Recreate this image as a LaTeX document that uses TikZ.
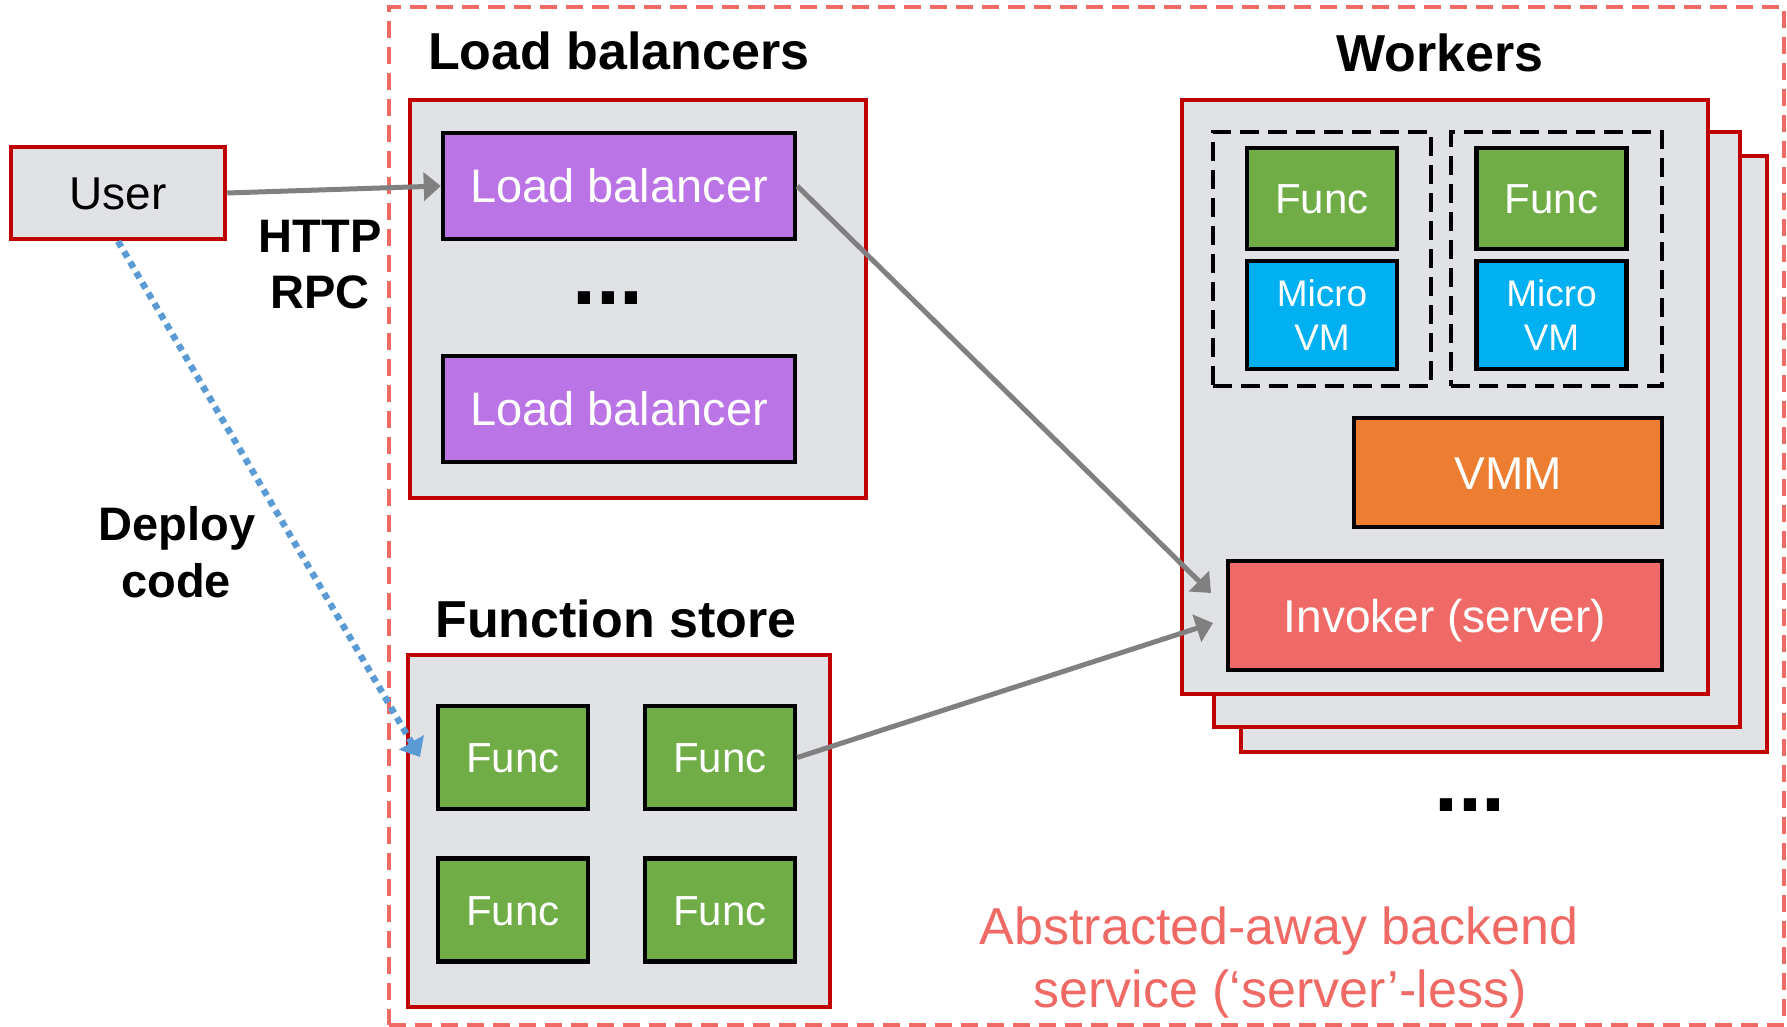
\documentclass[tikz,border=0pt]{standalone}
\usepackage{fontspec}
\setmainfont{Liberation Sans}
\usetikzlibrary{arrows.meta}
\definecolor{boxgray}{RGB}{225,226,229}
\definecolor{grpred}{RGB}{192,0,0}
\definecolor{lbpurple}{RGB}{186,116,230}
\definecolor{fgreen}{RGB}{112,173,71}
\definecolor{mvblue}{RGB}{0,176,240}
\definecolor{vmmorange}{RGB}{237,125,49}
\definecolor{invred}{RGB}{239,106,102}
\definecolor{salmon}{RGB}{240,106,101}
\definecolor{arrgray}{RGB}{128,128,128}
\definecolor{dotblue}{RGB}{91,155,213}
\newcommand{\myfs}[1]{\fontsize{#1}{#1}\selectfont}
\begin{document}
\begin{tikzpicture}[x=1pt,y=-1pt,
  grp/.style={draw=grpred, fill=boxgray, line width=4.5pt, inner sep=0pt},
  blk/.style={draw=black, line width=4.5pt, inner sep=0pt, text=white},
  lbbox/.style={blk, fill=lbpurple, minimum width=352, minimum height=106, font=\myfs{47}, text height=33pt, text depth=0pt},
  fbox/.style={blk, fill=fgreen, minimum width=150, minimum height=103, font=\myfs{42}, text height=30pt, text depth=0pt},
  mvbox/.style={blk, fill=mvblue, minimum width=150, minimum height=108, font=\fontsize{37}{44.6}\selectfont, align=center},
  dgrp/.style={draw=black, dash pattern=on 19pt off 9pt, line width=3.5pt, inner sep=0pt},
  title/.style={font=\bfseries\myfs{52}, inner sep=0pt},
  lbl/.style={font=\bfseries\myfs{47}, inner sep=0pt},
  note/.style={font=\myfs{52}, text=salmon, inner sep=0pt},
  dots/.style={font=\bfseries\myfs{86}, inner sep=0pt},
  conn/.style={draw=arrgray, line width=5pt, -{Triangle[length=17pt,width=28pt]}},
  dep/.style={draw=dotblue, line width=6.5pt, dash pattern=on 6.5pt off 5.5pt, -{Triangle[length=17pt,width=28pt]}}
]
\useasboundingbox (0,0) rectangle (1787,1027);

% outer service boundary
\node[draw=salmon, dash pattern=on 17pt off 9pt, line width=3.5pt, minimum width=1395, minimum height=1018, inner sep=0pt] (svc) at (1086.5,516) {};

% user
\node[grp, minimum width=214, minimum height=92, font=\myfs{46}, text height=33pt, text depth=0pt] (user) at (118,193) {User};

% load balancers
\node[title, anchor=base west] (tlb) at (428,70) {Load balancers};
\node[grp, minimum width=456, minimum height=398] (lbg) at (638,299) {};
\node[lbbox] (lb1) at (619,186) {Load balancer};
\node[lbbox] (lb2) at (619,409) {Load balancer};
\node[dots] (lbdots) at (608,298) {...};

% function store
\node[title, anchor=base] (tfs) at (616,637) {Function store};
\node[grp, minimum width=422, minimum height=352] (fsg) at (619,831) {};
\node[fbox] (fs1) at (513,757.5) {Func};
\node[fbox] (fs2) at (720,757.5) {Func};
\node[fbox] (fs3) at (513,910) {Func};
\node[fbox] (fs4) at (720,910) {Func};

% workers
\node[title, anchor=base] (twk) at (1440,72) {Workers};
\node[grp, minimum width=526, minimum height=596] (wk3) at (1504,454) {};
\node[grp, minimum width=526, minimum height=595] (wk2) at (1477,429.5) {};
\node[grp, minimum width=526, minimum height=594] (wk1) at (1445,397) {};
\node[dgrp, minimum width=218, minimum height=254] (g1) at (1322,259) {};
\node[dgrp, minimum width=211, minimum height=254] (g2) at (1556.5,259) {};
\node[fbox, minimum height=101] (wf1) at (1322,198.5) {Func};
\node[fbox, minimum height=101] (wf2) at (1551.5,198.5) {Func};
\node[mvbox] (mv1) at (1322,315) {Micro\\VM};
\node[mvbox] (mv2) at (1551.5,315) {Micro\\VM};
\node[blk, fill=vmmorange, minimum width=308, minimum height=109, font=\myfs{46}, text height=33pt, text depth=0pt] (vmm) at (1508,472.5) {VMM};
\node[blk, fill=invred, minimum width=434, minimum height=109, font=\myfs{46}, text height=33pt, text depth=0pt] (inv) at (1445,615.5) {Invoker (server)};
\node[dots] (wkdots) at (1470,805) {...};

% labels
\node[lbl, anchor=base] (http) at (320,252) {HTTP};
\node[lbl, anchor=base] (rpc) at (320,308) {RPC};
\node[lbl, anchor=base] (deploy) at (177,540) {Deploy};
\node[lbl, anchor=base] (code) at (176,597) {code};
\node[note, anchor=base] (n1) at (1279,944) {Abstracted-away backend};
\node[note, anchor=base] (n2) at (1280,1007.5) {service (‘server’-less)};

% connectors
\coordinate (t1) at (1211,593);
\coordinate (t2) at (1213,623);
\coordinate (t3) at (420,757);
\draw[conn] (user.east) -- (lb1.west);
\draw[conn] (lb1.east) -- (t1);
\draw[conn] (fs2.east) -- (t2);
\draw[dep] (user.south) -- (t3);
\end{tikzpicture}
\end{document}
